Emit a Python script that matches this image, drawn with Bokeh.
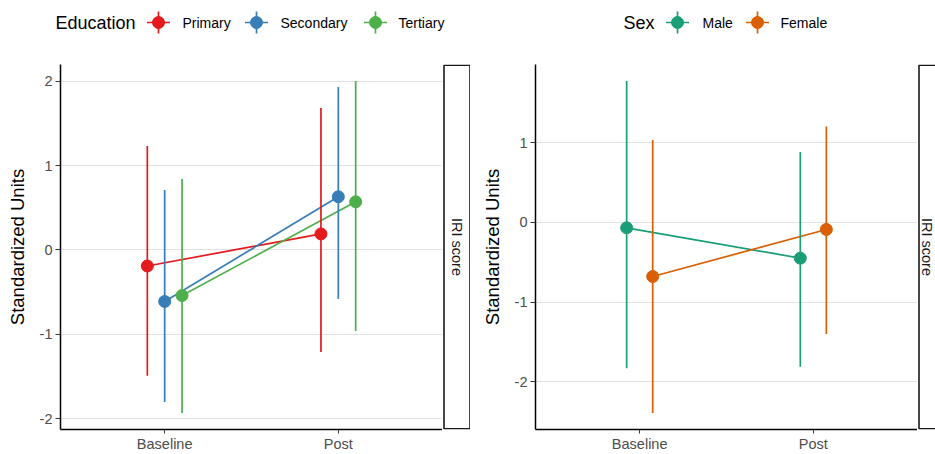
import math
from bokeh.plotting import figure
from bokeh.layouts import row, column
from bokeh.models import Range1d, FixedTicker
from bokeh.embed import file_html
from bokeh.resources import INLINE
from bokeh.core.properties import value

# ---------------- data ----------------
timepoints = ["Baseline", "Post"]

edu_groups = ["Primary", "Secondary", "Tertiary"]
edu_colors = ["#E41A1C", "#377EB8", "#4DAF4A"]
primary_mean = [-0.19, 0.19]
primary_lo = [-1.49, -1.21]
primary_hi = [1.23, 1.68]
secondary_mean = [-0.61, 0.63]
secondary_lo = [-1.80, -0.58]
secondary_hi = [0.71, 1.93]
tertiary_mean = [-0.54, 0.57]
tertiary_lo = [-1.93, -0.96]
tertiary_hi = [0.84, 2.00]

sex_groups = ["Male", "Female"]
sex_colors = ["#1B9E77", "#D95F02"]
male_mean = [-0.07, -0.45]
male_lo = [-1.83, -1.81]
male_hi = [1.77, 0.88]
female_mean = [-0.68, -0.09]
female_lo = [-2.39, -1.40]
female_hi = [1.03, 1.20]

edu_yticks = [-2, -1, 0, 1, 2]
sex_yticks = [-2, -1, 0, 1]
ytick_labels = {-2: "-2", -1: "-1", 0: "0", 1: "1", 2: "2"}
facet_label = "IRI score"
y_title = "Standardized Units"

# ---------------- layout constants ----------------
FONT = "Liberation Sans"
ORIGIN = 0                      # page position of the layout's top-left
LEG_H = 64
MAIN_H = 390
BORDER_B = 22
PAGE_TOP = ORIGIN + LEG_H       # page y of frame top
FRAME_BOTTOM = PAGE_TOP + MAIN_H - BORDER_B
DODGE = 0.3


def panel(groups, means, los, his, colors, yticks, width, border_left):
    lo_all = min(min(v) for v in los)
    hi_all = max(max(v) for v in his)
    pad = 0.05 * (hi_all - lo_all)
    p = figure(width=width, height=MAIN_H,
               x_range=Range1d(0.4, len(timepoints) + 0.6),
               y_range=Range1d(lo_all - pad, hi_all + pad),
               output_backend="svg", toolbar_location=None,
               min_border_left=border_left, min_border_right=0,
               min_border_top=0, min_border_bottom=BORDER_B)
    p.outline_line_color = None
    p.background_fill_color = "white"
    p.border_fill_color = "white"
    p.xgrid.visible = False
    p.ygrid.ticker = FixedTicker(ticks=yticks)
    p.ygrid.grid_line_color = "#E1E1E1"
    p.ygrid.grid_line_width = 1

    n = len(groups)
    xpos = []
    for i in range(n):
        off = -DODGE / 2 + DODGE / n * (i + 0.5)
        xpos.append([k + 1 + off for k in range(len(timepoints))])
    for i in range(n):
        p.line(xpos[i], means[i], line_color=colors[i], line_width=1.7)
    for i in range(n):
        p.segment(x0=xpos[i], y0=los[i], x1=xpos[i], y1=his[i],
                  line_color=colors[i], line_width=1.7)
        p.scatter(xpos[i], means[i], marker="circle", size=12,
                  fill_color=colors[i], line_color=colors[i])

    p.xaxis.ticker = FixedTicker(ticks=list(range(1, len(timepoints) + 1)))
    p.xaxis.major_label_overrides = {k + 1: t for k, t in enumerate(timepoints)}
    p.yaxis.ticker = FixedTicker(ticks=yticks)
    p.yaxis.major_label_overrides = {t: ytick_labels[t] for t in yticks}
    p.yaxis.axis_label = y_title
    for ax in (p.xaxis, p.yaxis):
        ax.axis_line_color = "black"
        ax.axis_line_width = 1.5
        ax.major_tick_line_color = "#333333"
        ax.major_tick_line_width = 1
        ax.major_tick_in = 0
        ax.major_tick_out = 5
        ax.minor_tick_line_color = None
        ax.major_label_standoff = 3
        ax.major_label_text_font = FONT
        ax.major_label_text_font_size = "14.5px"
        ax.major_label_text_color = "#4D4D4D"
        ax.axis_label_text_font = FONT
        ax.axis_label_text_font_size = "18.5px"
        ax.axis_label_text_font_style = "normal"
        ax.axis_label_text_color = "black"
        ax.axis_label_standoff = 9
    p.xaxis.major_tick_out = 4
    p.xaxis.major_label_standoff = 2
    return p


def strip(x0, width, text_cx, box_w=27):
    # the strip's frame covers exactly the panel's frame (same borders)
    s = figure(width=width, height=MAIN_H,
               x_range=Range1d(x0, x0 + width),
               y_range=Range1d(FRAME_BOTTOM, PAGE_TOP),
               x_axis_type=None, y_axis_type=None,
               output_backend="svg", toolbar_location=None,
               min_border_left=0, min_border_right=0,
               min_border_top=0, min_border_bottom=BORDER_B)
    s.outline_line_color = None
    s.quad(left=[x0 + 1.5], right=[x0 + 1.5 + box_w - 1], top=[PAGE_TOP + 0.8],
           bottom=[FRAME_BOTTOM - 0.8], fill_color="white",
           line_color="#1A1A1A", line_width=1.6)
    s.text(x=[text_cx], y=[(PAGE_TOP + FRAME_BOTTOM) / 2],
           text=[facet_label], angle=-math.pi / 2, text_align="center",
           text_baseline="middle", text_font=value(FONT),
           text_font_size="14.5px", text_color="#1A1A1A")
    return s


def legend_fig(x0, width, title, title_x, labels, colors, key_x, label_x):
    lf = figure(width=width, height=LEG_H,
                x_range=Range1d(x0, x0 + width),
                y_range=Range1d(ORIGIN + LEG_H, ORIGIN),
                x_axis_type=None, y_axis_type=None,
                output_backend="svg", toolbar_location=None, min_border=0)
    lf.outline_line_color = None
    cy = 22
    lf.text(x=[title_x], y=[cy], text=[title], text_align="left",
            text_baseline="middle", text_font=value(FONT),
            text_font_size="18px", text_color="black")
    for lab, c, kx, lx in zip(labels, colors, key_x, label_x):
        lf.segment(x0=[kx - 11.5], y0=[cy], x1=[kx + 11.5], y1=[cy],
                   line_color=c, line_width=1.7)
        lf.segment(x0=[kx], y0=[cy - 11], x1=[kx], y1=[cy + 11],
                   line_color=c, line_width=1.7)
        lf.scatter([kx], [cy], marker="circle", size=12, fill_color=c,
                   line_color=c)
        lf.text(x=[lx], y=[cy], text=[lab], text_align="left",
                text_baseline="middle", text_font=value(FONT),
                text_font_size="14px", text_color="black")
    return lf


p1 = panel(edu_groups,
           [primary_mean, secondary_mean, tertiary_mean],
           [primary_lo, secondary_lo, tertiary_lo],
           [primary_hi, secondary_hi, tertiary_hi],
           edu_colors, edu_yticks, width=442, border_left=60)
s1 = strip(442, 28, text_cx=456)
p2 = panel(sex_groups,
           [male_mean, female_mean],
           [male_lo, female_lo],
           [male_hi, female_hi],
           sex_colors, sex_yticks, width=447, border_left=65)
s2 = strip(917, 18, text_cx=926)

l1 = legend_fig(ORIGIN, 470, "Education", 55, edu_groups, edu_colors,
                [158, 256, 375], [182, 280, 398])
l2 = legend_fig(ORIGIN + 470, 465, "Sex", 623, sex_groups, sex_colors,
                [677, 757], [702, 780])

layout = column(row(l1, l2, spacing=0), row(p1, s1, p2, s2, spacing=0), spacing=0)

open("out.html", "w").write(file_html(layout, INLINE))
